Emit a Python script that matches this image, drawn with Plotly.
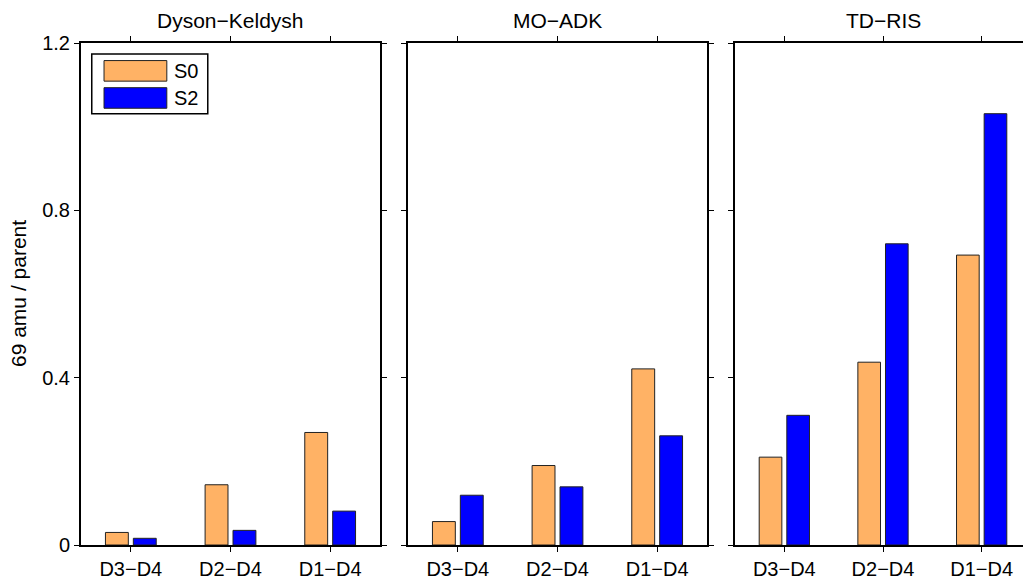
import plotly.graph_objects as go
from plotly.subplots import make_subplots

categories = ["D3\u2212D4", "D2\u2212D4", "D1\u2212D4"]
panels = ["Dyson\u2212Keldysh", "MO\u2212ADK", "TD\u2212RIS"]
s0_values = [
    [0.030, 0.144, 0.269],
    [0.056, 0.190, 0.421],
    [0.210, 0.437, 0.693],
]
s2_values = [
    [0.016, 0.035, 0.081],
    [0.119, 0.139, 0.261],
    [0.310, 0.720, 1.031],
]
series_names = ["S0", "S2"]
series_colors = ["#FFB265", "#0000FF"]
y_ticks = [0, 0.4, 0.8, 1.2]
y_title = "69 amu / parent"

# page body adds an 8px offset; compensate
OFF = 8
W, H = 1031 - OFF, 579 - OFF
L, R, T, B = 81 - OFF, 0, 43 - OFF, 34
PW = W - L - R
FONT = "Liberation Sans, Arial, sans-serif"

fig = make_subplots(rows=1, cols=3, shared_yaxes=False)

for i in range(3):
    for name, vals, col in zip(series_names, [s0_values[i], s2_values[i]], series_colors):
        fig.add_trace(go.Bar(x=categories, y=vals, name=name, marker_color=col,
                             marker_line_color="#222222", marker_line_width=1,
                             showlegend=False), row=1, col=i + 1)

# panel domains in pixels
px_domains = [(0, 299), (327, 626), (654, 950)]
for i in range(3):
    d0, d1 = px_domains[i]
    xa = "xaxis" if i == 0 else f"xaxis{i+1}"
    ya = "yaxis" if i == 0 else f"yaxis{i+1}"
    fig.layout[xa].update(domain=[d0 / PW, d1 / PW], showline=True, linecolor="black",
                          linewidth=2, mirror="ticks", ticks="outside", ticklen=5,
                          tickcolor="black", tickwidth=1, showgrid=False,
                          tickfont=dict(family=FONT, size=20, color="black"))
    fig.layout[ya].update(range=[0, 1.2], tickvals=y_ticks,
                          ticktext=["0", "0.4", "0.8", "1.2"],
                          showline=True, linecolor="black", linewidth=2,
                          mirror=("ticks" if i < 2 else False), ticks="outside", ticklen=5,
                          tickcolor="black", tickwidth=1, showgrid=False, zeroline=False,
                          showticklabels=(i == 0),
                          tickfont=dict(family=FONT, size=20, color="black"))
    fig.add_annotation(text=panels[i], x=(d0 + d1) / 2 / PW, y=1, xref="paper", yref="paper",
                       yanchor="bottom", xanchor="center", yshift=9, showarrow=False,
                       font=dict(family=FONT, size=21, color="black"))

fig.add_annotation(text=y_title, textangle=-90, x=(18 - 81) / PW, y=0.5, xref="paper",
                   yref="paper", xanchor="center", yanchor="middle", showarrow=False,
                   font=dict(family=FONT, size=21, color="black"))

# legend drawn in panel 1 domain coordinates
fig.add_shape(type="rect", xref="x domain", yref="y domain", x0=0.036, x1=0.424,
              y0=0.859, y1=0.978, line=dict(color="black", width=1.5), fillcolor="white")
leg_rows = [(0.924, 0.965, 0.944), (0.870, 0.911, 0.890)]
for (y0, y1, yc), name, col in zip(leg_rows, series_names, series_colors):
    fig.add_shape(type="rect", xref="x domain", yref="y domain", x0=0.077, x1=0.287,
                  y0=y0, y1=y1, line=dict(color="#222222", width=1), fillcolor=col)
    fig.add_annotation(text=name, xref="x domain", yref="y domain", x=0.303, y=yc,
                       xanchor="left", yanchor="middle", showarrow=False,
                       font=dict(family=FONT, size=20, color="black"))

fig.update_layout(width=W, height=H, margin=dict(l=L, r=R, t=T, b=B),
                  barmode="group", bargap=0.44, bargroupgap=0.18,
                  plot_bgcolor="white", paper_bgcolor="white",
                  font=dict(family=FONT, size=20, color="black"))

fig.write_html("out.html")
